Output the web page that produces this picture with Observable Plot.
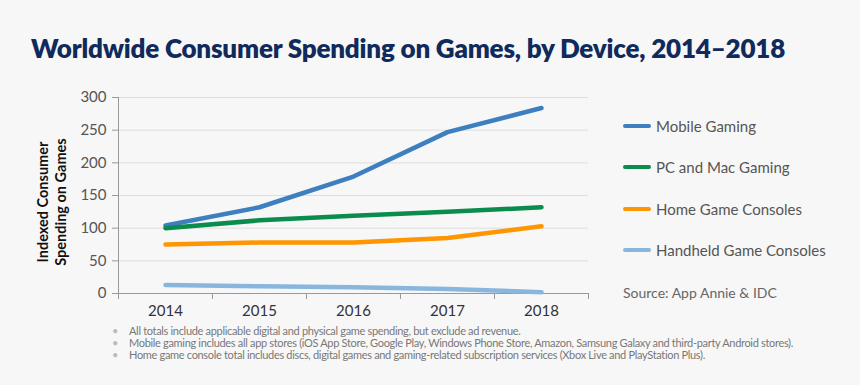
<!DOCTYPE html>
<html><head><meta charset="utf-8">
<script src="https://cdn.jsdelivr.net/npm/d3@7"></script>
<script src="https://cdn.jsdelivr.net/npm/@observablehq/plot@0.6"></script>
<style>
html,body{margin:0;padding:0;background:#f7f7f7;}
#wrap{position:relative;width:860px;height:385px;background:#f7f7f7;font-family:Lato,"Open Sans",sans-serif;overflow:hidden;}
#wrap svg{position:absolute;left:0;top:0;}
.abs{position:absolute;white-space:nowrap;}
#title{left:31px;top:32px;font-size:26px;font-weight:800;color:#102a5c;letter-spacing:-0.2px;}
#ylab{left:52px;top:202px;transform:translate(-50%,-50%) rotate(-90deg);font-size:14.5px;font-weight:700;color:#111;text-align:center;line-height:18px;}
.leg{left:623px;font-size:15px;color:#555;display:flex;align-items:center;}
.leg span.sw{display:inline-block;width:28px;height:4px;border-radius:2px;margin-right:5px;}
#src{left:623px;top:284px;font-size:14px;color:#666;}
.note{left:112px;font-size:11px;color:#777;letter-spacing:-0.32px;}
.note b{font-weight:400;color:#bbb;display:inline-block;width:17px;}
</style></head>
<body><div id="wrap"></div>
<script>
const years = [2014, 2015, 2016, 2017, 2018];
const seriesNames = ["Mobile Gaming", "PC and Mac Gaming", "Home Game Consoles", "Handheld Game Consoles"];
const seriesColors = ["#3e7fbf", "#0a8c4c", "#ff9500", "#88b6de"];
const mobile = [104, 132, 179, 247, 284];
const pcMac = [100, 112, 119, 125, 132];
const homeConsoles = [75, 78, 78, 85, 103];
const handheld = [13, 11, 9.5, 7, 2];
const yTicks = [0, 50, 100, 150, 200, 250, 300];
const bandEdges = [2013.5, 2014.5, 2015.5, 2016.5, 2017.5, 2018.5];
const notes = [
  "All totals include applicable digital and physical game spending, but exclude ad revenue.",
  "Mobile gaming includes all app stores (iOS App Store, Google Play, Windows Phone Store, Amazon, Samsung Galaxy and third-party Android stores).",
  "Home game console total includes discs, digital games and gaming-related subscription services (Xbox Live and PlayStation Plus)."
];
const allValues = [mobile, pcMac, homeConsoles, handheld];
const data = [];
allValues.forEach((vals, i) => vals.forEach((v, j) => data.push({series: seriesNames[i], year: years[j], value: v})));

const chart = Plot.plot({
  width: 860, height: 385,
  marginLeft: 118, marginRight: 272, marginTop: 97, marginBottom: 92,
  style: {background: "transparent", fontFamily: "Lato, 'Open Sans', sans-serif"},
  x: {domain: [2013.5, 2018.5]},
  y: {domain: [0, 300]},
  color: {domain: seriesNames, range: seriesColors},
  marks: [
    Plot.gridY(yTicks.filter(d => d > 0), {stroke: "#dedede", strokeOpacity: 1, strokeWidth: 1}),
    Plot.axisY({ticks: yTicks, tickSize: 6, tickPadding: 6, stroke: "#999", fill: "#555", fontSize: 15, label: null}),
    Plot.axisX({ticks: bandEdges, tickFormat: () => "", tickSize: 6, stroke: "#999", label: null}),
    Plot.axisX({ticks: years, tickSize: 0, tickPadding: 12, tickFormat: d => String(d), fill: "#333", fontSize: 15, label: null}),
    Plot.ruleX([2013.5], {stroke: "#999"}),
    Plot.ruleY([0], {stroke: "#999"}),
    Plot.lineY(data, {x: "year", y: "value", z: "series", stroke: "series", strokeWidth: 4.5, strokeLinecap: "round", strokeLinejoin: "round"})
  ]
});
const wrap = document.getElementById("wrap");
wrap.appendChild(chart);

function add(cls, id, html, top) {
  const d = document.createElement("div");
  d.className = "abs " + cls;
  if (id) d.id = id;
  d.innerHTML = html;
  if (top != null) d.style.top = top + "px";
  wrap.appendChild(d);
  return d;
}
add("", "title", "Worldwide Consumer Spending on Games, by Device, 2014–2018");
add("", "ylab", "Indexed Consumer<br>Spending on Games");
const legTops = [117, 158, 200, 241];
seriesNames.forEach((n, i) => add("leg", null, `<span class="sw" style="background:${seriesColors[i]}"></span>${n}`, legTops[i]));
add("", "src", "Source: App Annie &amp; IDC");
const noteTops = [324, 336, 348];
notes.forEach((n, i) => add("note", null, `<b>•</b>${n}`, noteTops[i]));
</script></body></html>
